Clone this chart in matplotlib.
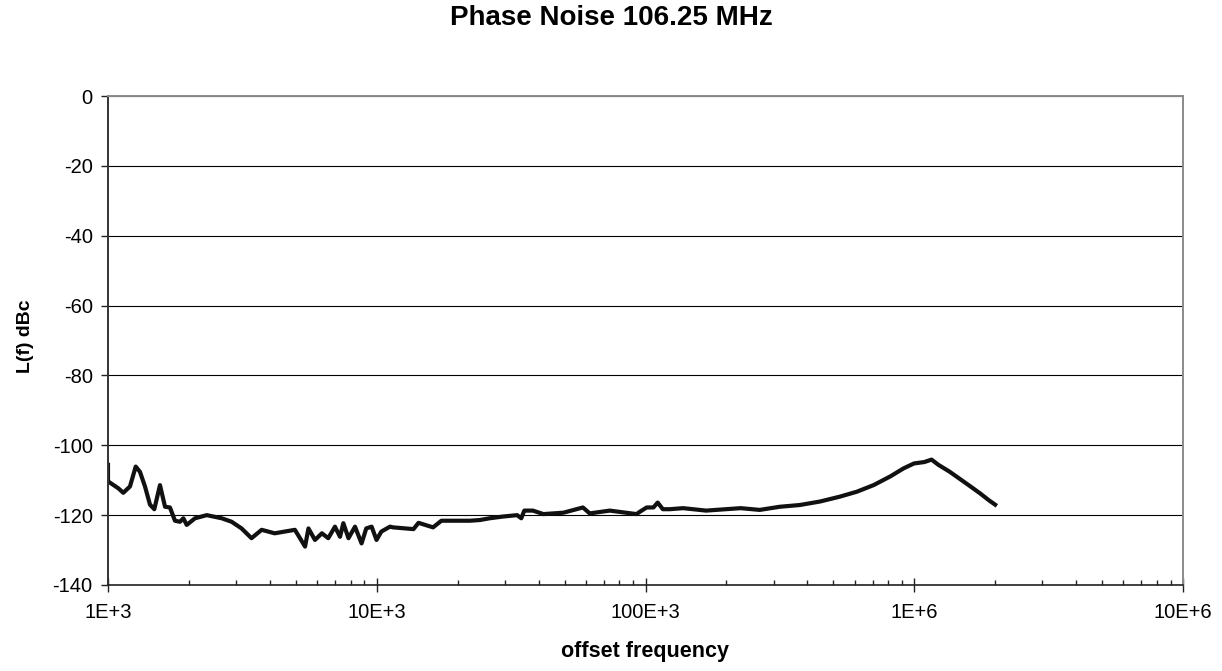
import numpy as np
import matplotlib
matplotlib.use("Agg")
import matplotlib.pyplot as plt
from matplotlib.ticker import FixedLocator, FixedFormatter, LogLocator, NullFormatter

# ---- data ----
freq_hz = [
    1000, 1000, 1017, 1092, 1140, 1207, 1268, 1315, 1373, 1433, 1487, 1561, 1630, 1700,
    1775, 1853, 1907, 1963, 2107, 2330, 2650, 2885, 3140, 3420, 3730, 4170, 4960, 5410,
    5570, 5890, 6250, 6600, 6990, 7300, 7510, 7850, 8300, 8780, 9140, 9570, 9980, 10400,
    11200, 11500, 13700, 14300, 16200, 17400, 22200, 24200, 26300, 29500, 33300, 34500,
    35400, 38100, 41700, 49500, 58500, 62000, 73600, 92600, 95400, 101000, 107000, 111000,
    116000, 123000, 138000, 168000, 226000, 266000, 316000, 375000, 446000, 529000,
    611000, 706000, 815000, 913000, 998000, 1090000, 1160000, 1230000, 1350000, 1470000,
    1600000, 1760000, 1900000, 2000000,
]
phase_noise_dbc = [
    -105.6, -110.4, -110.7, -112.3, -113.6, -111.8, -106.1, -107.6, -111.8, -117.0, -118.3,
    -111.4, -117.6, -117.8, -121.6, -121.9, -120.9, -122.8, -120.9, -120.0, -120.9, -121.9,
    -123.8, -126.6, -124.2, -125.2, -124.2, -129.0, -123.8, -127.1, -125.2, -126.6, -123.3,
    -126.2, -122.3, -126.6, -123.3, -128.1, -123.8, -123.3, -127.1, -124.7, -123.3, -123.5,
    -124.0, -122.2, -123.5, -121.6, -121.6, -121.4, -120.9, -120.4, -120.0, -120.9, -118.7,
    -118.7, -119.7, -119.3, -117.8, -119.5, -118.7, -119.7, -119.0, -117.8, -117.8, -116.4,
    -118.3, -118.3, -118.0, -118.7, -118.0, -118.5, -117.6, -117.1, -116.1, -114.7, -113.3,
    -111.4, -108.9, -106.6, -105.2, -104.8, -104.1, -105.6, -107.5, -109.5, -111.5, -113.8,
    -115.8, -117.0,
]
x_ticks = [1e3, 1e4, 1e5, 1e6, 1e7]
x_tick_labels = ["1E+3", "10E+3", "100E+3", "1E+6", "10E+6"]
y_ticks = [0, -20, -40, -60, -80, -100, -120, -140]

title = "Phase Noise 106.25 MHz"
xlabel = "offset frequency"
ylabel = "L(f) dBc"

plt.rcParams['font.family'] = ['Liberation Sans', 'DejaVu Sans']
plt.rcParams['axes.unicode_minus'] = False

W, H = 1222, 671
fig = plt.figure(figsize=(W / 100, H / 100), dpi=100)
left, right, top, bottom = 108, 1183, 96, 585
ax = fig.add_axes([left / W, 1 - bottom / H, (right - left) / W, (bottom - top) / H])

ax.plot(freq_hz, phase_noise_dbc, color='#111111', linewidth=3.0, solid_joinstyle='round')

ax.set_xscale('log')
ax.set_xlim(1e3, 1e7)
ax.set_ylim(-140, 0)

ax.xaxis.set_major_locator(FixedLocator(x_ticks))
ax.xaxis.set_major_formatter(FixedFormatter(x_tick_labels))
ax.xaxis.set_minor_locator(LogLocator(base=10, subs=np.arange(2, 10)))
ax.xaxis.set_minor_formatter(NullFormatter())
ax.set_yticks(y_ticks)

ax.grid(axis='y', which='major', color='black', linewidth=0.8)
ax.set_axisbelow(True)

for s in ['top', 'right']:
    ax.spines[s].set_color('#8a8a8a')
    ax.spines[s].set_linewidth(1.4)
ax.spines['left'].set_color('#333333')
ax.spines['left'].set_linewidth(1.4)
ax.spines['bottom'].set_color('#222222')
ax.spines['bottom'].set_linewidth(1.2)

ax.tick_params(axis='x', which='major', direction='inout', length=10, width=1,
               labelsize=14.5, pad=8, colors='#222222', labelcolor='black')
ax.tick_params(axis='x', which='minor', direction='in', length=3.5, width=1, colors='#222222')
ax.tick_params(axis='y', which='major', direction='out', length=5, width=1,
               labelsize=14.5, pad=6, colors='#222222', labelcolor='black')

fig.text(611 / W, 1 - 18 / H, title, ha='center', va='center', fontsize=20, fontweight='bold')
fig.text(645 / W, 1 - 651 / H, xlabel, ha='center', va='center', fontsize=15.5, fontweight='bold')
fig.text(25 / W, 1 - 336 / H, ylabel, ha='center', va='center', fontsize=14, fontweight='bold',
         rotation=90)

fig.savefig('out.png', dpi=100, facecolor='white')
